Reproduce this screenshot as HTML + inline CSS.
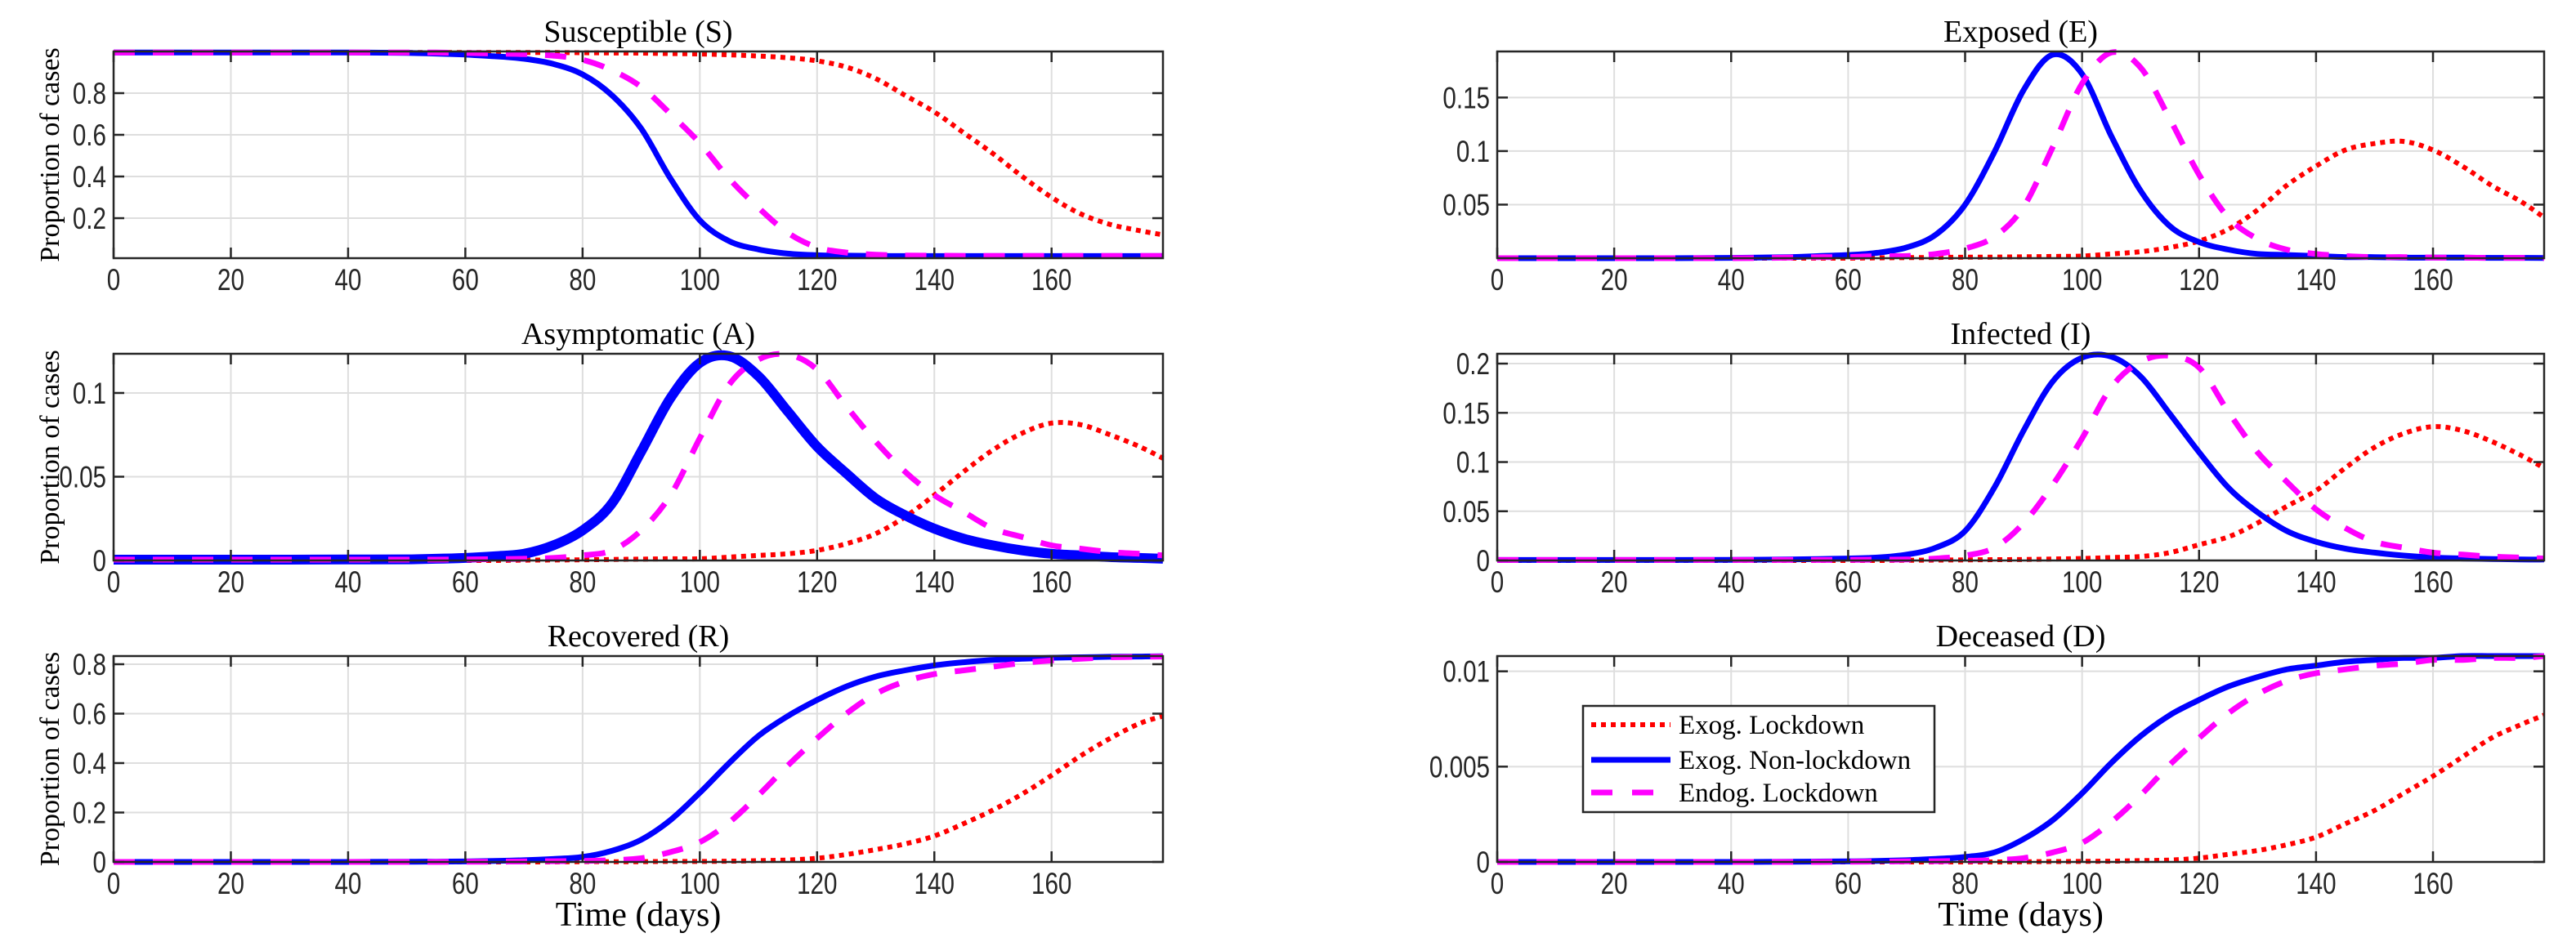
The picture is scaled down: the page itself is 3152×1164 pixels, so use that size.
<!DOCTYPE html>
<html><head><meta charset="utf-8"><style>
html,body{margin:0;padding:0;background:#fff;}
svg{display:block;}
.tick{font-family:"Liberation Sans Narrow","Liberation Sans",sans-serif;font-size:37px;fill:#262626;}
.ser{font-family:"Liberation Serif",serif;fill:#000;}
</style></head><body>
<svg id="fig" width="3152" height="1164" viewBox="0 0 3152 1164" xmlns="http://www.w3.org/2000/svg"></svg>
<script>
const DAYS = [0,10,20,30,40,50,55,60,65,70,75,80,85,90,95,100,105,110,115,120,125,130,135,140,145,150,155,160,165,170,175,179];
const X_TICKS = [0,20,40,60,80,100,120,140,160];
const SERIES_NAMES = ["Exog. Lockdown","Exog. Non-lockdown","Endog. Lockdown"];

const S_RED = [0.995,0.995,0.995,0.995,0.995,0.995,0.995,0.995,0.995,0.995,0.995,0.994,0.993,0.992,0.99,0.988,0.984,0.978,0.97,0.955,0.925,0.87,0.79,0.71,0.61,0.51,0.40,0.30,0.22,0.17,0.14,0.12];
const S_BLUE = [0.995,0.995,0.995,0.995,0.995,0.993,0.99,0.985,0.977,0.965,0.94,0.89,0.79,0.63,0.39,0.19,0.09,0.05,0.03,0.022,0.02,0.019,0.018,0.018,0.018,0.018,0.018,0.018,0.018,0.018,0.018,0.018];
const S_MAG = [0.995,0.995,0.995,0.995,0.995,0.995,0.995,0.993,0.99,0.987,0.98,0.96,0.91,0.83,0.70,0.56,0.39,0.25,0.13,0.06,0.035,0.025,0.021,0.02,0.019,0.019,0.019,0.019,0.019,0.019,0.019,0.019];

const E_RED = [0,0,0,0,0,0,0,0,0.0003,0.0005,0.0007,0.0009,0.001,0.0013,0.0016,0.002,0.004,0.006,0.01,0.016,0.027,0.045,0.068,0.086,0.101,0.107,0.109,0.101,0.086,0.068,0.053,0.038];
const E_BLUE = [0,0,0,0,0.0003,0.001,0.002,0.003,0.005,0.01,0.022,0.05,0.099,0.157,0.19,0.172,0.114,0.063,0.03,0.015,0.008,0.004,0.003,0.002,0.001,0.001,0.0005,0.0005,0.0005,0.0003,0.0003,0.0002];
const E_MAG = [0,0,0,0,0,0.0005,0.001,0.001,0.002,0.002,0.004,0.009,0.02,0.048,0.104,0.163,0.192,0.178,0.13,0.078,0.038,0.018,0.008,0.004,0.002,0.001,0.001,0.0005,0.0005,0.0003,0.0003,0.0002];

const A_RED = [0,0,0,0,0,0,0,0,0,0.0002,0.0003,0.0004,0.0006,0.0008,0.001,0.001,0.002,0.003,0.004,0.006,0.01,0.016,0.026,0.039,0.053,0.066,0.076,0.082,0.081,0.075,0.068,0.061];
const A_BLUE = [0.0005,0.0005,0.0005,0.0005,0.0006,0.0007,0.001,0.0015,0.0025,0.004,0.009,0.018,0.034,0.065,0.097,0.118,0.122,0.11,0.089,0.068,0.052,0.037,0.027,0.019,0.013,0.009,0.006,0.004,0.003,0.002,0.0015,0.001];
const A_MAG = [0.0005,0.0005,0.0005,0.0005,0.0005,0.0005,0.0005,0.0006,0.0008,0.001,0.0015,0.003,0.006,0.018,0.039,0.073,0.105,0.12,0.123,0.114,0.092,0.071,0.053,0.039,0.029,0.019,0.014,0.009,0.007,0.005,0.004,0.003];

const I_RED = [0,0,0,0,0,0,0,0,0,0.0002,0.0004,0.0006,0.0008,0.001,0.0015,0.002,0.003,0.004,0.008,0.016,0.024,0.038,0.055,0.071,0.094,0.115,0.129,0.136,0.132,0.121,0.107,0.094];
const I_BLUE = [0.0005,0.0005,0.0005,0.0005,0.0007,0.001,0.0015,0.002,0.003,0.006,0.013,0.03,0.074,0.132,0.182,0.206,0.207,0.187,0.149,0.11,0.074,0.049,0.03,0.019,0.012,0.008,0.005,0.003,0.002,0.0015,0.001,0.001];
const I_MAG = [0.0005,0.0005,0.0005,0.0005,0.0005,0.0005,0.0005,0.0006,0.0008,0.001,0.002,0.005,0.013,0.038,0.077,0.124,0.176,0.202,0.208,0.196,0.151,0.11,0.08,0.052,0.033,0.019,0.013,0.008,0.006,0.004,0.003,0.002];

const R_RED = [0,0,0,0,0,0,0,0,0,0,0,0.001,0.001,0.001,0.002,0.002,0.003,0.005,0.008,0.015,0.03,0.05,0.073,0.105,0.155,0.21,0.275,0.35,0.43,0.50,0.56,0.59];
const R_BLUE = [0,0,0,0,0,0.001,0.001,0.002,0.004,0.007,0.012,0.02,0.045,0.09,0.17,0.28,0.40,0.51,0.59,0.655,0.71,0.75,0.775,0.795,0.808,0.817,0.822,0.826,0.828,0.83,0.831,0.832];
const R_MAG = [0,0,0,0,0,0,0,0.001,0.001,0.002,0.003,0.004,0.007,0.015,0.04,0.08,0.16,0.27,0.39,0.50,0.6,0.68,0.73,0.76,0.775,0.79,0.805,0.815,0.822,0.828,0.83,0.831];

const D_RED = [0,0,0,0,0,0,0,0,0,0,0,0,0,0.00001,0.00002,0.00003,0.00004,0.00007,0.0001,0.0002,0.0004,0.0006,0.0009,0.0013,0.002,0.0027,0.0036,0.0045,0.0055,0.0065,0.0072,0.0077];
const D_BLUE = [0,0,0,0,0,0.00001,0.00002,0.00003,0.00005,0.00009,0.00016,0.00026,0.0005,0.0012,0.0022,0.0036,0.0052,0.0066,0.0077,0.0085,0.0092,0.0097,0.0101,0.0103,0.0105,0.0106,0.0107,0.0107,0.0108,0.0108,0.0108,0.0108];
const D_MAG = [0,0,0,0,0,0,0,0.00001,0.00002,0.00003,0.00004,0.00006,0.0001,0.0002,0.0005,0.001,0.0021,0.0035,0.0051,0.0065,0.0078,0.0088,0.0095,0.0099,0.0101,0.0103,0.0104,0.0106,0.0106,0.0107,0.0107,0.0108];

const S_TICKS = [0.2,0.4,0.6,0.8];
const S_TICK_LABELS = ["0.2","0.4","0.6","0.8"];
const E_TICKS = [0.05,0.1,0.15];
const E_TICK_LABELS = ["0.05","0.1","0.15"];
const A_TICKS = [0,0.05,0.1];
const A_TICK_LABELS = ["0","0.05","0.1"];
const I_TICKS = [0,0.05,0.1,0.15,0.2];
const I_TICK_LABELS = ["0","0.05","0.1","0.15","0.2"];
const R_TICKS = [0,0.2,0.4,0.6,0.8];
const R_TICK_LABELS = ["0","0.2","0.4","0.6","0.8"];
const D_TICKS = [0,0.005,0.01];
const D_TICK_LABELS = ["0","0.005","0.01"];

const NS = "http://www.w3.org/2000/svg";
const fig = document.getElementById('fig');
function mk(tag, attrs, parent){
  const e = document.createElementNS(NS, tag);
  for (const k in attrs) e.setAttribute(k, attrs[k]);
  (parent||fig).appendChild(e);
  return e;
}
function smoothPath(pts){
  let d = "M" + pts[0][0].toFixed(1) + "," + pts[0][1].toFixed(1);
  for (let i=0;i<pts.length-1;i++){
    const p0 = pts[Math.max(0,i-1)], p1 = pts[i], p2 = pts[i+1], p3 = pts[Math.min(pts.length-1,i+2)];
    const c1x = p1[0] + (p2[0]-p0[0])/6, c1y = p1[1] + (p2[1]-p0[1])/6;
    const c2x = p2[0] - (p3[0]-p1[0])/6, c2y = p2[1] - (p3[1]-p1[1])/6;
    d += " C" + c1x.toFixed(1)+","+c1y.toFixed(1)+" "+c2x.toFixed(1)+","+c2y.toFixed(1)+" "+p2[0].toFixed(1)+","+p2[1].toFixed(1);
  }
  return d;
}

const XMAX = 179;
const panels = [
  {key:"susceptible", title:"Susceptible (S)", x0:139, x1:1423, top:63, bot:316, ymin:0.008, ymax:1.0, ticks:S_TICKS, labels:S_TICK_LABELS, red:S_RED, blue:S_BLUE, mag:S_MAG, bw:7, ylabel:true},
  {key:"exposed", title:"Exposed (E)", x0:1832, x1:3113, top:63, bot:316, ymin:0, ymax:0.193, ticks:E_TICKS, labels:E_TICK_LABELS, red:E_RED, blue:E_BLUE, mag:E_MAG, bw:7},
  {key:"asymptomatic", title:"Asymptomatic (A)", x0:139, x1:1423, top:433, bot:686, ymin:0, ymax:0.1234, ticks:A_TICKS, labels:A_TICK_LABELS, red:A_RED, blue:A_BLUE, mag:A_MAG, bw:12, ylabel:true},
  {key:"infected", title:"Infected (I)", x0:1832, x1:3113, top:433, bot:686, ymin:0, ymax:0.21, ticks:I_TICKS, labels:I_TICK_LABELS, red:I_RED, blue:I_BLUE, mag:I_MAG, bw:7},
  {key:"recovered", title:"Recovered (R)", x0:139, x1:1423, top:803, bot:1055, ymin:0, ymax:0.833, ticks:R_TICKS, labels:R_TICK_LABELS, red:R_RED, blue:R_BLUE, mag:R_MAG, bw:7, ylabel:true, xlabel:true},
  {key:"deceased", title:"Deceased (D)", x0:1832, x1:3113, top:803, bot:1055, ymin:0, ymax:0.0108, ticks:D_TICKS, labels:D_TICK_LABELS, red:D_RED, blue:D_BLUE, mag:D_MAG, bw:7, xlabel:true, legend:true}
];

panels.forEach(p => {
  const g = mk('g', {});
  
  
  const xs = d => p.x0 + (d/XMAX)*(p.x1-p.x0);
  const ys = v => p.bot - (v-p.ymin)/(p.ymax-p.ymin)*(p.bot-p.top);
  X_TICKS.forEach(t => {
    const l = mk('line', {x1:xs(t), x2:xs(t), y1:p.top, y2:p.bot, stroke:'#dedede', 'stroke-width':2}, g);
    
    
  });
  p.ticks.forEach(t => {
    const l = mk('line', {x1:p.x0, x2:p.x1, y1:ys(t), y2:ys(t), stroke:'#dedede', 'stroke-width':2}, g);
    
    
  });
  const series = [
    {arr:p.red, color:'#ff0000', w:6, dash:'6 6', name:'exog-lockdown-line'},
    {arr:p.blue, color:'#0000ff', w:p.bw, dash:'', name:'exog-nonlockdown-line'},
    {arr:p.mag, color:'#ff00ff', w:7, dash:'26 22', name:'endog-lockdown-line'}
  ];
  series.forEach(s => {
    const pts = DAYS.map((d,i) => [xs(d), ys(s.arr[i])]);
    const path = mk('path', {d:smoothPath(pts), fill:'none', stroke:s.color, 'stroke-width':s.w, 'stroke-dasharray':s.dash}, g);
    
    
  });
  const box = mk('rect', {x:p.x0, y:p.top, width:p.x1-p.x0, height:p.bot-p.top, fill:'none', stroke:'#262626', 'stroke-width':2.5}, g);
  
  
  X_TICKS.forEach(t => {
    mk('line', {x1:xs(t), x2:xs(t), y1:p.bot, y2:p.bot-13, stroke:'#262626', 'stroke-width':2.5}, g);
    mk('line', {x1:xs(t), x2:xs(t), y1:p.top, y2:p.top+13, stroke:'#262626', 'stroke-width':2.5}, g);
    const tx = mk('text', {x:0, y:0, transform:'translate('+xs(t)+','+(p.bot+39)+') scale(0.8,1)', 'text-anchor':'middle', class:'tick'}, g);
    tx.textContent = String(t);
    
    
  });
  p.ticks.forEach((t,i) => {
    mk('line', {x1:p.x0, x2:p.x0+13, y1:ys(t), y2:ys(t), stroke:'#262626', 'stroke-width':2.5}, g);
    mk('line', {x1:p.x1, x2:p.x1-13, y1:ys(t), y2:ys(t), stroke:'#262626', 'stroke-width':2.5}, g);
    const tx = mk('text', {x:0, y:0, transform:'translate('+(p.x0-9)+','+(ys(t)+13)+') scale(0.8,1)', 'text-anchor':'end', class:'tick'}, g);
    tx.textContent = p.labels[i];
    
    
  });
  const ti = mk('text', {x:(p.x0+p.x1)/2, y:p.top-12, 'text-anchor':'middle', class:'ser', 'font-size':38}, g);
  ti.textContent = p.title;
  
  
  if (p.ylabel){
    const cy = (p.top+p.bot)/2;
    const yl = mk('text', {x:0, y:0, transform:'translate(72,'+cy+') rotate(-90)', 'text-anchor':'middle', class:'ser', 'font-size':34}, g);
    yl.textContent = 'Proportion of cases';
    
    
  }
  if (p.xlabel){
    const xl = mk('text', {x:(p.x0+p.x1)/2, y:1133, 'text-anchor':'middle', class:'ser', 'font-size':42}, g);
    xl.textContent = 'Time (days)';
    
    
  }
  if (p.legend){
    const lg = mk('g', {}, g);
    
    
    mk('rect', {x:1937, y:864, width:430, height:130, fill:'#fff', stroke:'#262626', 'stroke-width':2.5}, lg);
    const ly = [887, 930, 970];
    series.forEach((s,i) => {
      const e = mk('g', {}, lg);
      
      
      mk('line', {x1:1947, x2:2044, y1:ly[i], y2:ly[i], stroke:s.color, 'stroke-width':s.name==='exog-nonlockdown-line'?7:s.w, 'stroke-dasharray':s.name==='endog-lockdown-line'?'26 24':s.dash}, e);
      const t = mk('text', {x:2054, y:ly[i]+11, class:'ser', 'font-size':33}, e);
      t.textContent = SERIES_NAMES[i];
    });
  }
});
</script>
</body></html>
